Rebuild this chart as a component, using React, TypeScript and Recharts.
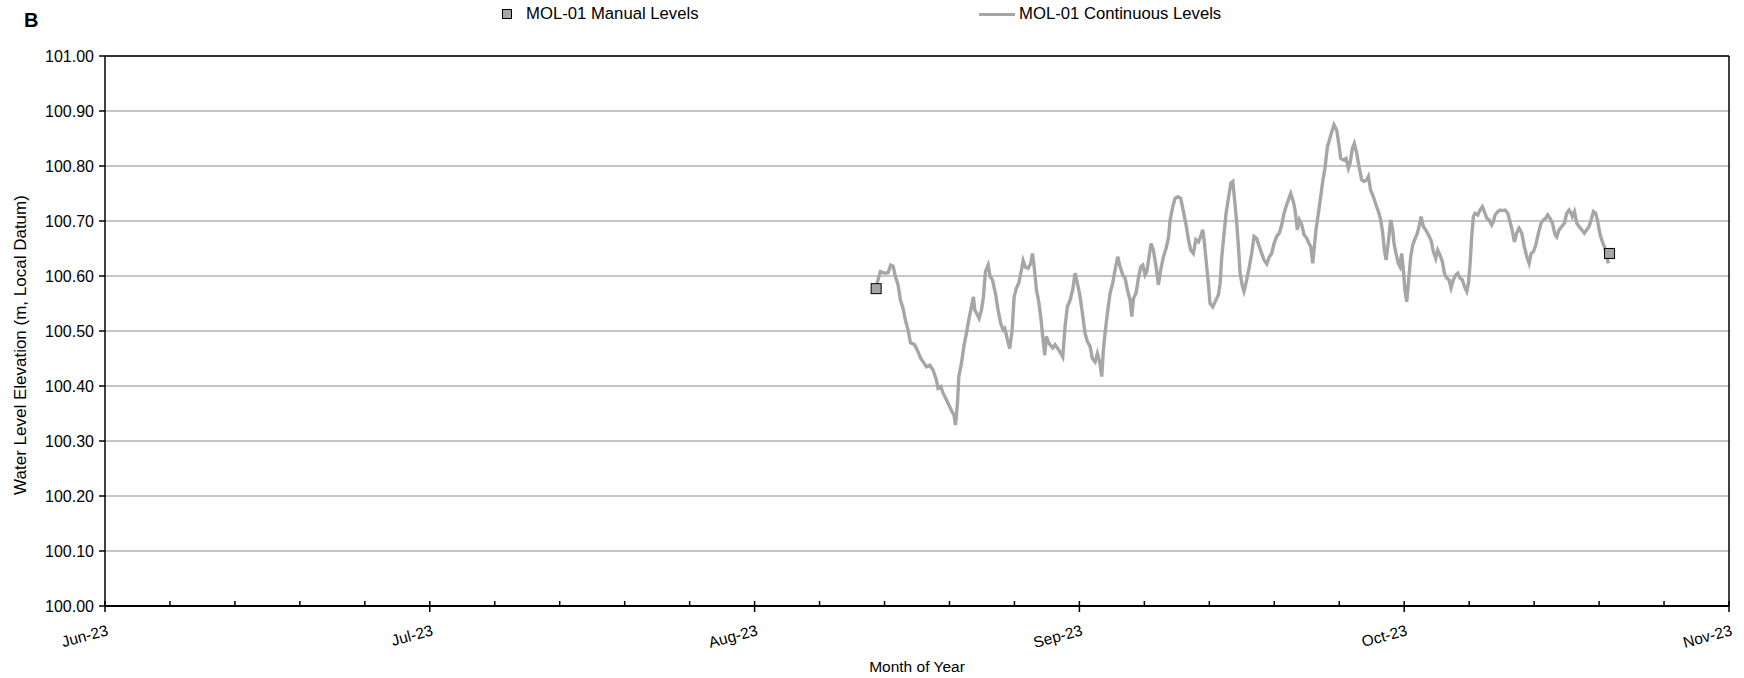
import { ComposedChart, Line, Scatter, XAxis, YAxis, CartesianGrid, ReferenceLine, Label } from "recharts"

// x values are days counted from 1 Jun 2023; the axis runs in 31-day steps
const monthTicks = [0, 31, 62, 93, 124, 155]
const monthLabels = ["Jun-23", "Jul-23", "Aug-23", "Sep-23", "Oct-23", "Nov-23"]
const levelTicks = [100.0, 100.1, 100.2, 100.3, 100.4, 100.5, 100.6, 100.7, 100.8, 100.9, 101.0]

const manualDays = [73.6, 143.6]
const manualLevels = [100.577, 100.641]

const contDays = [
  73.69, 74.01, 74.42, 74.74, 74.99, 75.22, 75.44, 75.69, 75.92, 76.17,
  76.39, 76.65, 76.87, 77.28, 77.6, 77.86, 78.08, 78.4, 78.72, 79.03,
  79.35, 79.51, 79.77, 79.99, 80.31, 80.63, 80.85, 81.04, 81.17, 81.36,
  81.49, 81.74, 81.99, 82.22, 82.47, 82.69, 82.89, 83.01, 83.2, 83.43,
  83.65, 83.84, 84.03, 84.29, 84.48, 84.7, 84.99, 85.24, 85.49, 85.72,
  85.88, 86.13, 86.35, 86.58, 86.77, 86.99, 87.21, 87.47, 87.63, 87.85,
  88.1, 88.36, 88.52, 88.68, 88.9, 89.12, 89.31, 89.5, 89.69, 89.85,
  90.08, 90.45, 90.68, 90.9, 91.15, 91.41, 91.63, 91.85, 92.11, 92.36,
  92.59, 92.81, 93.06, 93.29, 93.54, 93.76, 94.02, 94.24, 94.5, 94.72,
  94.97, 95.13, 95.29, 95.45, 95.67, 95.93, 96.18, 96.4, 96.66, 96.88,
  97.14, 97.36, 97.58, 97.84, 98.0, 98.16, 98.41, 98.63, 98.86, 99.05,
  99.27, 99.43, 99.65, 99.84, 100.06, 100.32, 100.54, 100.76, 101.02, 101.27,
  101.5, 101.66, 101.91, 102.13, 102.39, 102.67, 102.93, 103.18, 103.41, 103.63,
  103.88, 104.11, 104.36, 104.58, 104.77, 104.9, 105.09, 105.31, 105.47, 105.73,
  105.95, 106.27, 106.43, 106.59, 106.81, 107.0, 107.22, 107.45, 107.64, 107.86,
  108.02, 108.18, 108.34, 108.56, 108.71, 108.97, 109.22, 109.44, 109.67, 109.92,
  110.18, 110.4, 110.62, 110.88, 111.13, 111.35, 111.58, 111.83, 112.08, 112.31,
  112.53, 112.72, 112.94, 113.17, 113.42, 113.58, 113.8, 113.99, 114.22, 114.44,
  114.69, 114.92, 115.08, 115.27, 115.39, 115.58, 115.81, 116.03, 116.22, 116.44,
  116.67, 116.86, 117.08, 117.3, 117.56, 117.75, 117.94, 118.19, 118.45, 118.67,
  118.83, 119.05, 119.24, 119.47, 119.69, 119.94, 120.17, 120.42, 120.58, 120.8,
  121.06, 121.31, 121.54, 121.76, 121.95, 122.11, 122.27, 122.49, 122.71, 122.9,
  123.03, 123.22, 123.44, 123.6, 123.76, 123.92, 124.08, 124.24, 124.4, 124.62,
  124.81, 125.04, 125.26, 125.45, 125.61, 125.83, 126.05, 126.31, 126.56, 126.79,
  127.01, 127.2, 127.42, 127.64, 127.84, 128.06, 128.28, 128.47, 128.69, 128.92,
  129.11, 129.33, 129.55, 129.74, 129.97, 130.13, 130.29, 130.44, 130.6, 130.76,
  131.02, 131.24, 131.46, 131.65, 131.88, 132.1, 132.35, 132.51, 132.67, 132.93,
  133.15, 133.37, 133.63, 133.88, 134.1, 134.33, 134.52, 134.74, 134.96, 135.22,
  135.47, 135.7, 135.92, 136.11, 136.33, 136.55, 136.81, 137.06, 137.29, 137.51,
  137.7, 137.92, 138.15, 138.4, 138.56, 138.78, 139.04, 139.29, 139.51, 139.74,
  139.93, 140.05, 140.25, 140.47, 140.69, 140.95, 141.2, 141.42, 141.65, 141.84,
  142.06, 142.28, 142.47, 142.7, 142.92, 143.11, 143.33, 143.49,
]

const contLevels = [
  100.587, 100.608, 100.605, 100.606, 100.62, 100.618, 100.599, 100.584, 100.556, 100.541,
  100.52, 100.502, 100.479, 100.475, 100.462, 100.45, 100.444, 100.435, 100.438, 100.429,
  100.411, 100.396, 100.399, 100.387, 100.375, 100.362, 100.353, 100.347, 100.329, 100.368,
  100.417, 100.441, 100.474, 100.496, 100.523, 100.544, 100.562, 100.538, 100.532, 100.523,
  100.538, 100.562, 100.608, 100.62, 100.599, 100.593, 100.568, 100.538, 100.514, 100.502,
  100.505, 100.484, 100.468, 100.502, 100.562, 100.578, 100.587, 100.611, 100.628, 100.616,
  100.614, 100.623, 100.641, 100.617, 100.575, 100.553, 100.526, 100.49, 100.456, 100.49,
  100.478, 100.469, 100.475, 100.469, 100.462, 100.453, 100.508, 100.544, 100.556, 100.575,
  100.605, 100.587, 100.563, 100.532, 100.496, 100.481, 100.472, 100.45, 100.444, 100.459,
  100.441, 100.417, 100.466, 100.496, 100.532, 100.569, 100.587, 100.611, 100.635, 100.617,
  100.602, 100.596, 100.575, 100.556, 100.526, 100.559, 100.569, 100.596, 100.617, 100.62,
  100.602, 100.608, 100.635, 100.659, 100.647, 100.617, 100.584, 100.611, 100.635, 100.65,
  100.669, 100.702, 100.726, 100.741, 100.744, 100.741, 100.717, 100.693, 100.666, 100.647,
  100.641, 100.666, 100.662, 100.672, 100.684, 100.666, 100.629, 100.587, 100.55, 100.544,
  100.553, 100.566, 100.587, 100.635, 100.678, 100.714, 100.741, 100.769, 100.772, 100.729,
  100.696, 100.653, 100.605, 100.581, 100.572, 100.593, 100.617, 100.641, 100.672, 100.668,
  100.653, 100.641, 100.629, 100.622, 100.635, 100.641, 100.659, 100.672, 100.678, 100.693,
  100.714, 100.726, 100.738, 100.75, 100.735, 100.72, 100.684, 100.702, 100.693, 100.675,
  100.669, 100.659, 100.653, 100.623, 100.647, 100.684, 100.714, 100.744, 100.772, 100.796,
  100.835, 100.847, 100.862, 100.875, 100.865, 100.841, 100.814, 100.811, 100.814, 100.796,
  100.805, 100.832, 100.841, 100.823, 100.799, 100.775, 100.772, 100.775, 100.781, 100.756,
  100.744, 100.729, 100.717, 100.702, 100.678, 100.647, 100.629, 100.662, 100.702, 100.684,
  100.659, 100.641, 100.623, 100.617, 100.641, 100.611, 100.572, 100.553, 100.587, 100.635,
  100.656, 100.668, 100.678, 100.693, 100.708, 100.69, 100.684, 100.675, 100.665, 100.644,
  100.632, 100.647, 100.638, 100.626, 100.605, 100.596, 100.593, 100.578, 100.593, 100.602,
  100.605, 100.596, 100.593, 100.581, 100.572, 100.587, 100.623, 100.671, 100.708, 100.714,
  100.711, 100.72, 100.726, 100.717, 100.705, 100.702, 100.693, 100.699, 100.711, 100.717,
  100.72, 100.719, 100.72, 100.714, 100.699, 100.681, 100.662, 100.678, 100.687, 100.678,
  100.653, 100.635, 100.623, 100.641, 100.644, 100.656, 100.678, 100.696, 100.702, 100.705,
  100.711, 100.705, 100.696, 100.675, 100.671, 100.684, 100.69, 100.696, 100.714, 100.72,
  100.714, 100.708, 100.717, 100.696, 100.69, 100.684, 100.678, 100.684, 100.69, 100.702,
  100.717, 100.714, 100.699, 100.675, 100.662, 100.653, 100.635, 100.623,
]

const continuous = contDays.map((d, i) => ({ day: d, level: contLevels[i] }))
const manual = manualDays.map((d, i) => ({ day: d, level: manualLevels[i] }))

// five minor steps per month on the x axis
const allTicks: number[] = []
for (let i = 0; i < monthTicks.length - 1; i++) {
  for (let j = 0; j < 5; j++) allTicks.push(monthTicks[i] + (j * (monthTicks[i + 1] - monthTicks[i])) / 5)
}
allTicks.push(monthTicks[monthTicks.length - 1])

const FONT = "'Liberation Sans', Arial, sans-serif"
const GREY = "#a6a6a6"

function MonthTick(props: any) {
  const { x, y, payload } = props
  const idx = monthTicks.indexOf(Math.round(payload.value * 1000) / 1000)
  if (idx < 0) {
    return <line x1={x} x2={x} y1={y} y2={y - 5} stroke="#000" strokeWidth={1.5} />
  }
  return (
    <g>
      <line x1={x} x2={x} y1={y - 5} y2={y + 6} stroke="#000" strokeWidth={1.5} />
      <text
        x={x + 4}
        y={y + 29}
        textAnchor="end"
        transform={`rotate(-15, ${x + 4}, ${y + 29})`}
        fontSize={15.5}
        fontFamily={FONT}
        fill="#000"
      >
        {monthLabels[idx]}
      </text>
    </g>
  )
}

function ManualSquare(props: any) {
  const { cx, cy } = props
  return <rect x={cx - 5} y={cy - 5} width={10} height={10} fill={GREY} stroke="#000" strokeWidth={1} />
}

export default function App() {
  return (
    <div style={{ position: "absolute", left: 0, top: 0, width: 1744, height: 678, background: "#fff", fontFamily: FONT }}>
      <div style={{ position: "absolute", left: 24, top: 9, fontSize: 20, fontWeight: "bold" }}>B</div>

      <div style={{ position: "absolute", left: 502, top: 9, width: 10, height: 10, background: GREY, border: "1px solid #000", boxSizing: "border-box" }} />
      <div style={{ position: "absolute", left: 526, top: 4, fontSize: 16.7 }}>MOL-01 Manual Levels</div>
      <div style={{ position: "absolute", left: 979, top: 13, width: 36, height: 3, background: GREY }} />
      <div style={{ position: "absolute", left: 1019, top: 4, fontSize: 16.7 }}>MOL-01 Continuous Levels</div>

      <div
        style={{
          position: "absolute",
          left: 21,
          top: 345,
          transform: "translate(-50%, -50%) rotate(-90deg)",
          whiteSpace: "nowrap",
          fontSize: 17,
        }}
      >
        Water Level Elevation (m, Local Datum)
      </div>

      <ComposedChart
        width={1744}
        height={678}
        margin={{ top: 56, right: 15, left: 0, bottom: 0 }}
        style={{ position: "absolute", left: 0, top: 0 }}
      >
        <CartesianGrid horizontal vertical={false} stroke="#8c8c8c" strokeWidth={1} />
        <XAxis
          dataKey="day"
          type="number"
          domain={[0, 155]}
          ticks={allTicks}
          interval={0}
          height={72}
          tickSize={0}
          tickMargin={0}
          tickLine={false}
          axisLine={{ stroke: "#000", strokeWidth: 2 }}
          tick={<MonthTick />}
        >
          <Label value="Month of Year" position="insideBottom" offset={6} fontSize={15.5} fill="#000" fontFamily={FONT} />
        </XAxis>
        <YAxis
          type="number"
          domain={[100, 101]}
          ticks={levelTicks}
          interval={0}
          width={105}
          tickSize={6}
          tickMargin={5}
          tickFormatter={(v) => Number(v).toFixed(2)}
          tick={{ fontSize: 16, fill: "#000", fontFamily: FONT }}
          tickLine={{ stroke: "#000", strokeWidth: 1.5 }}
          axisLine={{ stroke: "#000", strokeWidth: 1.5 }}
        />
        <ReferenceLine y={101} stroke="#000" strokeWidth={1.5} />
        <ReferenceLine x={155} stroke="#000" strokeWidth={1.5} />
        <Line
          data={continuous}
          dataKey="level"
          type="linear"
          stroke={GREY}
          strokeWidth={3.4}
          dot={false}
          isAnimationActive={false}
        />
        <Scatter data={manual} dataKey="level" shape={<ManualSquare />} isAnimationActive={false} />
      </ComposedChart>
    </div>
  )
}
